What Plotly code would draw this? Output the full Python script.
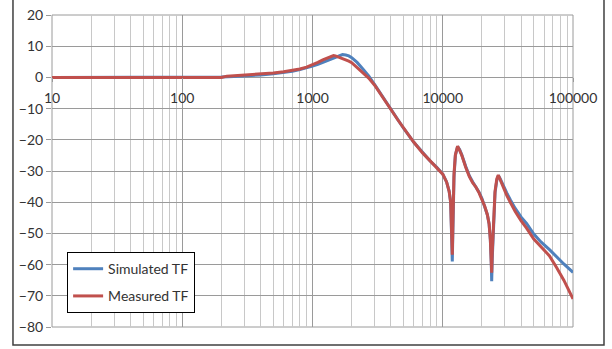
import plotly.graph_objects as go

freq_sim = [10, 20, 50, 100, 150, 200, 250, 300, 400, 500, 600, 700, 800, 900, 1000,
            1100, 1200, 1300, 1400, 1500, 1600, 1700, 1800, 1900, 2000, 2200, 2400, 2700,
            3000, 3500, 4000, 4500, 5000, 6000, 7000, 8000, 9000, 10000, 10700, 11200,
            11500, 11700, 11840, 11950, 12200, 12500, 13000, 13500, 14000, 15000, 16000,
            17000, 18000, 19000, 20000, 21000, 22000, 22700, 23200, 23600, 23750, 24000,
            24500, 25200, 26000, 26700, 27500, 29000, 31000, 33000, 36000, 40000, 44000,
            50000, 57000, 66000, 75000, 85000, 100000]
db_sim = [0, 0, 0, 0, 0.05, 0.15, 0.3, 0.45, 0.8, 1.2, 1.6, 2.0, 2.5, 3.0, 3.6,
          4.2, 4.8, 5.4, 6.0, 6.6, 7.0, 7.3, 7.2, 6.9, 6.3, 4.8, 3.0, 0.5,
          -2.3, -6.5, -10.3, -13.5, -16.3, -20.8, -24.2, -26.8, -28.8, -31, -33.5, -36.5,
          -40, -48, -59, -50, -32, -25, -22.2, -23.2, -24.8, -28.5, -31.5,
          -33.5, -35, -36.8, -38.8, -41.2, -44, -47, -52, -60, -65.3, -58,
          -46, -37, -33, -31.5, -32.3, -34.5, -37, -39.2, -42, -44.8, -46.8,
          -50.2, -52.8, -55.2, -57.6, -59.8, -62.5]

freq_meas = [10, 20, 50, 100, 150, 200, 220, 300, 400, 500, 600, 700, 800, 900, 1000,
             1100, 1200, 1300, 1400, 1450, 1500, 1600, 1700, 1800, 1900, 2000, 2200, 2400,
             2700, 3000, 3500, 4000, 4500, 5000, 6000, 7000, 8000, 9000, 10000, 10700,
             11200, 11500, 11700, 11840, 11950, 12200, 12500, 13000, 13500, 14000, 15000,
             16000, 17000, 18000, 19000, 20000, 21000, 22000, 22700, 23200, 23600, 23750,
             24000, 24500, 25200, 26000, 26700, 27500, 29000, 31000, 33000, 36000, 40000,
             44000, 50000, 57000, 66000, 75000, 85000, 100000]
db_meas = [0, 0, 0, 0, 0, 0, 0.4, 0.7, 1.1, 1.4, 1.8, 2.2, 2.7, 3.3, 4.0,
           4.8, 5.6, 6.3, 6.9, 7.0, 6.9, 6.5, 6.0, 5.6, 5.2, 4.7, 3.2, 1.7,
           -0.2, -2.5, -6.5, -10.3, -13.5, -16.3, -20.8, -24.2, -26.8, -28.8, -31, -33.5,
           -36.5, -40, -47, -56.8, -48, -31, -24.8, -22, -23.5, -25, -28.8,
           -31.8, -33.8, -35.2, -37, -39, -41.3, -44, -47, -52, -59, -62.6,
           -56, -45, -36.5, -32.5, -31.3, -32.6, -35, -37.8, -40, -43, -46,
           -48.3, -51.8, -54.5, -57.2, -61, -65, -71]

series_names = ["Simulated TF", "Measured TF"]
x_ticks = [10, 100, 1000, 10000, 100000]
x_ticklabels = ["10", "100", "1000", "10000", "100000"]
y_ticks = [20, 10, 0, -10, -20, -30, -40, -50, -60, -70, -80]

FONT = "Lato"
fig = go.Figure()
fig.add_trace(go.Scatter(x=freq_sim, y=db_sim, mode="lines", name=series_names[0],
                         legendgroup="a", line=dict(color="#4F81BD", width=3)))
fig.add_trace(go.Scatter(x=freq_meas, y=db_meas, mode="lines", name=series_names[1],
                         legendgroup="b", line=dict(color="#C0504D", width=3)))

fig.update_layout(
    width=612, height=349,
    margin=dict(l=52, r=39, t=15, b=22, autoexpand=False),
    paper_bgcolor="white", plot_bgcolor="white",
    font=dict(family=FONT, size=14, color="#333333"),
    showlegend=True,
    legend=dict(x=0.029, y=0.24, xanchor="left", yanchor="top",
                bgcolor="white", bordercolor="#000000", borderwidth=1,
                font=dict(family=FONT, size=14, color="#333333"),
                tracegroupgap=6),
    xaxis=dict(type="log", range=[1, 5], tickvals=x_ticks, ticktext=x_ticklabels,
               showgrid=True, gridcolor="#9a9a9a", gridwidth=1,
               minor=dict(dtick="D1", showgrid=True, gridcolor="#c8c8c8", gridwidth=1, ticks=""),
               anchor="free", position=0.8, showline=False, zeroline=False,
               ticks="outside", ticklen=4, tickcolor="#9a9a9a",
               ticklabelstandoff=4, automargin=False),
    yaxis=dict(range=[-80, 20], tickvals=y_ticks, domain=[0, 1],
               showgrid=True, gridcolor="#9a9a9a", gridwidth=1,
               zeroline=False, showline=False, automargin=False,
               ticks="outside", ticklen=5, tickcolor="#9a9a9a"),
    shapes=[
        dict(type="rect", xref="paper", yref="paper", x0=0, x1=1, y0=0, y1=1,
             line=dict(color="#9a9a9a", width=1), layer="below"),
        dict(type="rect", xref="paper", yref="paper", x0=-0.0749, x1=1.0595,
             y0=-0.0577, y1=1.06, line=dict(color="#404040", width=1.5)),
    ],
)

fig.write_html("out.html", config={"displayModeBar": False},
               post_script="document.body.style.margin='0';document.body.style.overflow='hidden';")
